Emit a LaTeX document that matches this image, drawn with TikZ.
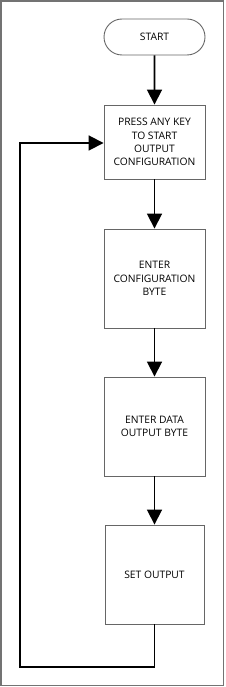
\documentclass[tikz,border=0pt]{standalone}
\usepackage{fontspec}
\setmainfont{Open Sans}
\usetikzlibrary{arrows.meta,shapes.misc}
\begin{document}
\begin{tikzpicture}[x=1pt,y=-1pt,
  frame/.style={draw=black!55,line width=1.2pt},
  boxstyle/.style={draw=black!60,line width=0.9pt,fill=white,minimum width=101pt,minimum height=99pt,align=center,font=\fontsize{10.3}{13.2}\selectfont,inner sep=0pt},
  termstyle/.style={draw=black!60,line width=0.9pt,rounded rectangle,minimum width=101pt,minimum height=36pt,font=\fontsize{10.3}{13.2}\selectfont,inner sep=0pt},
  conn/.style={line width=1.8pt,-{Triangle[length=15pt,width=15pt]}},
  plain/.style={line width=1.8pt}]
\useasboundingbox (0,0) rectangle (225,687);
\draw[frame] (1,1) rectangle (223.5,685.5);
\node[termstyle] (start) at (154.5,37) {START};
\node[boxstyle,minimum height=74pt] (b1) at (154.5,142) {PRESS ANY KEY\\TO START\\OUTPUT\\CONFIGURATION};
\node[boxstyle] (b2) at (154.5,278.5) {ENTER\\CONFIGURATION\\BYTE};
\node[boxstyle] (b3) at (154.5,426.5) {ENTER DATA\\OUTPUT BYTE};
\node[boxstyle,minimum width=99pt] (b4) at (154.5,574.5) {SET OUTPUT};
\coordinate (c1) at (154.5,667);
\coordinate (c2) at (20,667);
\coordinate (c3) at (20,143);
\draw[conn] (start) -- (b1);
\draw[conn] (b1) -- (b2);
\draw[conn] (b2) -- (b3);
\draw[conn] (b3) -- (b4);
\draw[conn] (b4.south) -- (c1) -- (c2) -- (c3) -- (c3 -| b1.west);
\end{tikzpicture}
\end{document}
